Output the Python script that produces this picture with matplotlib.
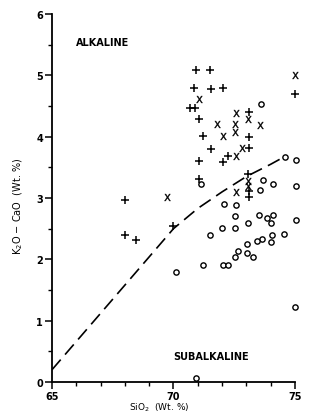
import matplotlib
matplotlib.use('Agg')
import matplotlib.pyplot as plt
from matplotlib.ticker import MultipleLocator

# данные
plus_x = [70.91, 71.50, 70.86, 71.56, 72.02, 70.68, 70.90, 71.07, 75.01, 73.10,
          71.20, 73.12, 71.54, 73.11, 72.25, 71.05, 72.05, 73.08, 71.03, 73.12,
          73.12, 67.99, 69.99, 67.99, 68.47]
plus_y = [5.08, 5.08, 4.79, 4.78, 4.80, 4.47, 4.47, 4.28, 4.69, 4.40,
          4.01, 4.00, 3.80, 3.81, 3.69, 3.60, 3.59, 3.39, 3.31, 3.12,
          3.01, 2.97, 2.55, 2.39, 2.32]

cross_x = [71.03, 74.99, 72.57, 73.08, 71.78, 72.53, 72.53, 73.55, 72.04, 72.83,
           72.57, 73.05, 73.07, 72.57, 69.72]
cross_y = [4.61, 5.00, 4.38, 4.28, 4.20, 4.21, 4.08, 4.19, 4.01, 3.82,
           3.69, 3.27, 3.19, 3.10, 3.02]

circ_x = [73.60, 74.57, 75.03, 71.15, 73.70, 74.08, 75.04, 73.57, 72.06, 72.56,
          72.52, 73.50, 73.84, 74.08, 74.02, 75.03, 73.08, 72.00, 72.53, 71.50,
          74.05, 74.56, 73.66, 73.44, 74.01, 73.04, 72.64, 72.52, 73.01, 73.26,
          71.21, 72.02, 72.24, 70.09, 74.99, 70.93]
circ_y = [4.54, 3.67, 3.62, 3.23, 3.30, 3.22, 3.20, 3.13, 2.91, 2.89,
          2.70, 2.73, 2.68, 2.73, 2.60, 2.64, 2.60, 2.51, 2.51, 2.39,
          2.40, 2.42, 2.33, 2.30, 2.29, 2.25, 2.14, 2.04, 2.10, 2.03,
          1.91, 1.91, 1.91, 1.80, 1.22, 0.06]

# граница щелочных / субщелочных пород
line_x = [65, 66, 67, 68, 69, 70, 71, 72, 73, 74, 74.55]
line_y = [0.2, 0.66, 1.12, 1.58, 2.04, 2.5, 2.83, 3.1, 3.35, 3.55, 3.67]

fig = plt.figure(figsize=(3.26, 4.14), dpi=100)
ax = fig.add_axes([0.1595, 0.0749, 0.7454, 0.8889])

ax.plot(line_x, line_y, color='black', lw=1.2, dashes=(8, 4))
ax.plot(plus_x, plus_y, ls='none', marker='+', ms=6, mew=1.1, color='black', clip_on=False)
ax.plot(cross_x, cross_y, ls='none', marker='$\\mathsf{X}$', ms=5, mew=0.3, color='black', clip_on=False)
ax.plot(circ_x, circ_y, ls='none', marker='o', ms=3.8, mew=1.0, mfc='white', mec='black', clip_on=False)

ax.set_xlim(65, 75)
ax.set_ylim(0, 6)
for s in ['top', 'right']:
    ax.spines[s].set_visible(False)
for s in ['left', 'bottom']:
    ax.spines[s].set_linewidth(1.3)

ax.set_xticks([65, 70, 75])
ax.xaxis.set_minor_locator(MultipleLocator(1))
ax.yaxis.set_major_locator(MultipleLocator(1))
ax.yaxis.set_minor_locator(MultipleLocator(0.5))
ax.tick_params(which='major', length=5, width=1.1, labelsize=7, direction='out', pad=1.5)
ax.tick_params(which='minor', length=3, width=1.0, direction='out')
for lab in ax.get_xticklabels() + ax.get_yticklabels():
    lab.set_fontweight('bold')

ax.set_xlabel('SiO$_2$  (Wt. %)', fontsize=6.5, va='center')
ax.xaxis.set_label_coords(0.44, -0.068)
ax.set_ylabel('K$_2$O $-$ CaO  (Wt. %)', fontsize=7)
ax.yaxis.set_label_coords(-0.11, 0.48)

ax.text(66.0, 5.55, 'ALKALINE', fontsize=7, fontweight='bold', va='center')
ax.text(69.98, 0.43, 'SUBALKALINE', fontsize=7, fontweight='bold', va='center')

fig.savefig('out.png', dpi=100)
